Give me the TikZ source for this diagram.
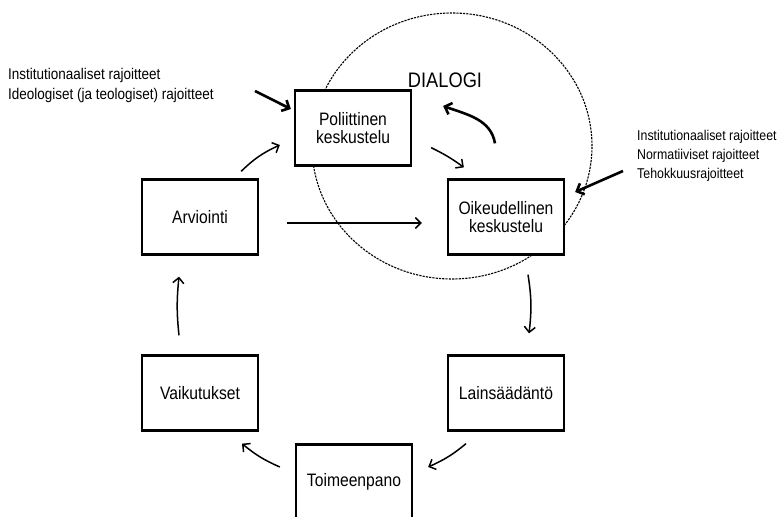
\documentclass[tikz,border=0pt]{standalone}
\usepackage{fontspec}
\setmainfont{Liberation Sans}[FakeStretch=0.87]
\usetikzlibrary{arrows.meta,bending}

\begin{document}
\begin{tikzpicture}[x=1pt,y=1pt,
  box/.style={draw,line width=2.3pt,fill=white,minimum width=116pt,minimum height=75pt,
    align=center,font=\fontsize{18}{18}\selectfont},
  arr/.style={line width=1.5pt,-{Straight Barb[length=5.5pt,width=11pt]}},
  heavy/.style={line width=2.6pt,-{Straight Barb[length=6pt,width=12pt]}},
  lbl/.style={align=left,inner sep=0pt}]
\useasboundingbox (0,0) rectangle (780,517);

% dialogue area
\draw[dash pattern=on 2.2pt off 1.1pt,line width=1.1pt] (452,371) ellipse [x radius=140,y radius=133];
\node at (445,437) (dialogi) {\fontsize{21}{21}\selectfont DIALOGI};

% cycle
\node[box] at (353,389) (polit) {Poliittinen\\keskustelu};
\node[box] at (506,300) (oikeus) {Oikeudellinen\\keskustelu};
\node[box] at (200,300) (arvio) {Arviointi};
\node[box] at (200,124) (vaikut) {Vaikutukset};
\node[box] at (506,124) (laki) {Lainsäädäntö};
\node[box] at (354,35) (toimeen) {Toimeenpano};

% constraints
\node[lbl,anchor=west,font=\fontsize{15.5}{20}\selectfont] at (8,432) (vasen)
  {Institutionaaliset rajoitteet\\Ideologiset (ja teologiset) rajoitteet};
\node[lbl,anchor=west,font=\fontsize{14.2}{19}\selectfont] at (637,361) (oikea)
  {Institutionaaliset rajoitteet\\Normatiiviset rajoitteet\\Tehokkuusrajoitteet};
\coordinate (vasenkarki) at (255,426);
\coordinate (oikeakarki) at (623,346);
\draw[heavy] (vasenkarki) -- ([shift={(-3,19)}]polit.west);
\draw[heavy] (oikeakarki) -- ([shift={(10,25)}]oikeus.east);

% arrows
\draw[arr] ([shift={(-18,7)}]arvio.north east) to[bend left=10] ([shift={(-14,-17)}]polit.west);
\draw[arr] ([shift={(19,19)}]polit.south east) to[bend left=5] ([shift={(17,11)}]oikeus.north west);
\draw[heavy] ([shift={(-11,35)}]oikeus.north) to[out=100,in=-20] ([shift={(31,22)}]polit.east);
\draw[arr] ([shift={(28,-6)}]arvio.east) -- ([shift={(-25,-6)}]oikeus.west);
\draw[arr] ([shift={(22,-19)}]oikeus.south) to[bend left=8] ([shift={(23,21)}]laki.north);
\draw[arr] ([shift={(-40,-12)}]laki.south) to[bend left=8] ([shift={(15,15)}]toimeen.east);
\draw[arr] ([shift={(-15,15)}]toimeen.west) to[bend left=8] ([shift={(42,-12)}]vaikut.south);
\draw[arr] ([shift={(-21,19)}]vaikut.north) to[bend left=6] ([shift={(-21,-21)}]arvio.south);
\end{tikzpicture}
\end{document}
